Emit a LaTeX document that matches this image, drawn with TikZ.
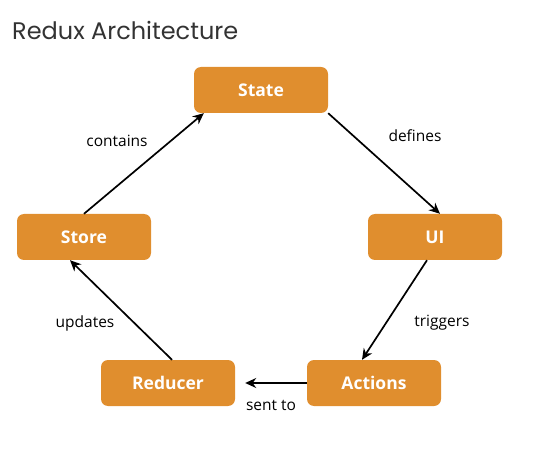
\documentclass[tikz,border=0pt]{standalone}
\usepackage{fontspec}
\setmainfont{Open Sans}
\newfontfamily\titlefont{Poppins}
\usetikzlibrary{arrows.meta}
\definecolor{boxorange}{HTML}{E08E2E}
\definecolor{titlegray}{HTML}{333333}
\begin{document}
\begin{tikzpicture}[x=1pt,y=-1pt,
  box/.style={rectangle, rounded corners=7pt, fill=boxorange, minimum width=134pt, minimum height=46pt, inner sep=0pt, text=white, font=\fontsize{17.5}{20}\selectfont\bfseries},
  conn/.style={draw=black, line width=1.7pt, -{Stealth[length=11pt,width=10pt]}},
  lbl/.style={font=\fontsize{15.5}{18}\selectfont, text=black}]
\useasboundingbox (0,0) rectangle (549,449);
\node[anchor=west, text=titlegray, font=\titlefont\fontsize{24}{28}\selectfont, inner sep=0pt] (title) at (12,30) {Redux Architecture};
\node[box] (state) at (261,90) {State};
\node[box] (ui) at (435,237) {UI};
\node[box] (store) at (84,237) {Store};
\node[box] (reducer) at (168,383) {Reducer};
\node[box] (actions) at (374,383) {Actions};
\draw[conn] (store.north) -- ([xshift=10pt]state.south west);
\draw[conn] (state.south east) -- ([xshift=5pt]ui.north);
\draw[conn] ([xshift=-8pt]ui.south) -- ([xshift=-12pt]actions.north);
\draw[conn] (actions.west) -- ([xshift=10pt]reducer.east);
\draw[conn] ([xshift=4pt]reducer.north) -- ([xshift=-14pt]store.south);
\node[lbl] (l1) at (117,141) {contains};
\node[lbl] (l2) at (415,136) {defines};
\node[lbl] (l3) at (442,323) {triggers};
\node[lbl] (l4) at (85,323) {updates};
\node[lbl] (l5) at (271,405) {sent to};
\end{tikzpicture}
\end{document}
